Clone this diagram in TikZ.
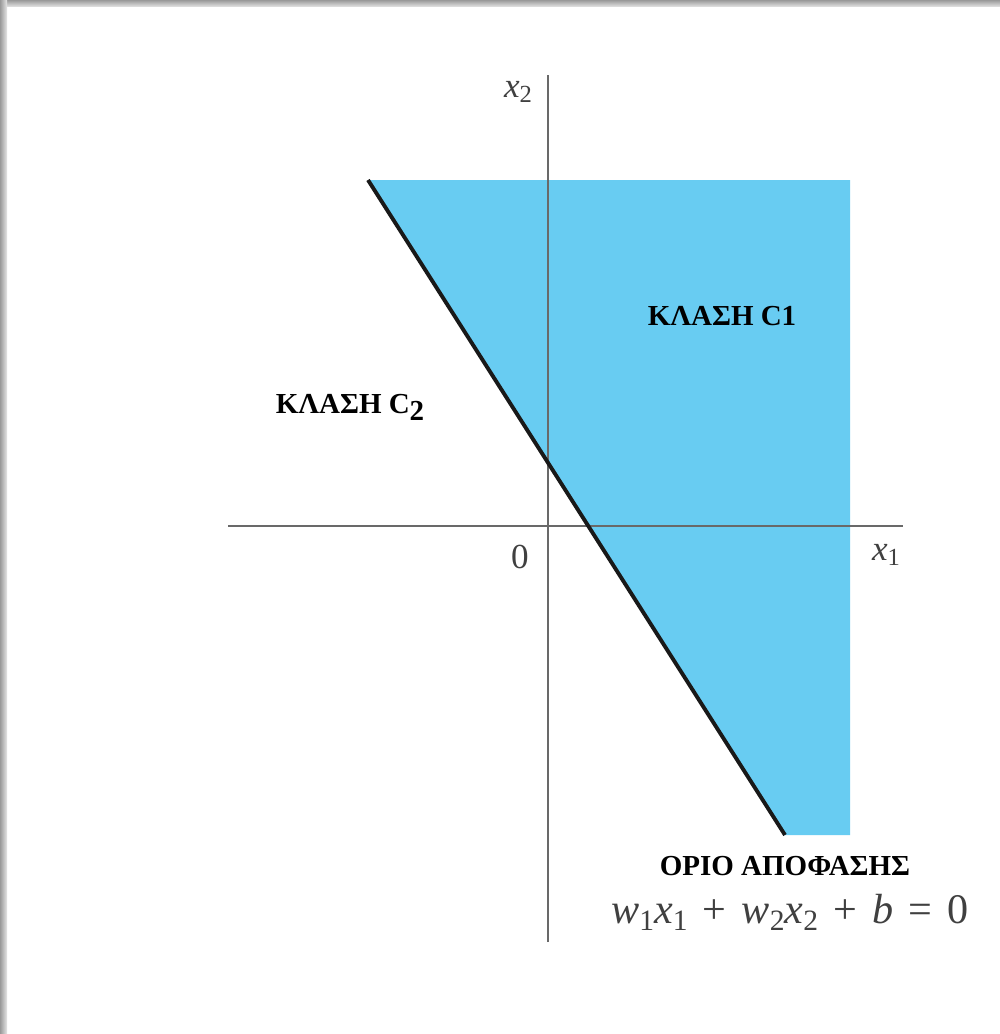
\documentclass[tikz,border=0pt]{standalone}
\usepackage{fontspec}
\setmainfont{Liberation Serif}
\usepackage{tikz}

\definecolor{regionblue}{RGB}{104,204,242}
\definecolor{axisgray}{RGB}{105,105,105}

\newcommand{\isub}[2]{\textit{#1}\raisebox{-0.35ex}{\fontsize{0.7em}{1em}\selectfont #2}}
\newcommand{\opgap}{\hspace{0.36em}}

\begin{document}
\begin{tikzpicture}[
    x=0.02cm, y=-0.02cm,
    axis/.style={draw=axisgray, line width=1.2pt},
    boundary/.style={draw=black!90, line width=2.2pt},
    classlbl/.style={font=\fontsize{16.5}{19}\selectfont\bfseries, inner sep=0pt},
    axislbl/.style={font=\fontsize{20}{22}\selectfont, text=black!75, inner sep=0pt}
]
    \useasboundingbox (0,0) rectangle (1000,1034);
    \fill[white] (0,0) rectangle (1000,1034);
    \shade[top color=gray!80, bottom color=gray!20] (0,0) rectangle (1000,7);
    \shade[left color=gray!80, right color=gray!20] (0,0) rectangle (7,1034);

    % decision region
    \coordinate (top) at (368,180);
    \coordinate (bottom) at (785,835);
    \fill[regionblue] (top) -- (850,180) -- (850,835) -- (bottom) -- cycle;

    % axes
    \coordinate (x1from) at (228,526);
    \coordinate (x1to) at (903,526);
    \coordinate (x2from) at (548,942);
    \coordinate (x2to) at (548,75);
    \draw[axis] (x1from) -- (x1to);
    \draw[axis] (x2from) -- (x2to);

    \draw[boundary] (top) -- (bottom);

    \node[axislbl] (x2lbl) at (518,92) {\isub{x}{2}};
    \node[axislbl] (x1lbl) at (886,555) {\isub{x}{1}};
    \node[axislbl] (origin) at (520,557) {0};

    \node[classlbl] (c1) at (722,316) {ΚΛΑΣΗ C1};
    \node[classlbl] (c2) at (350,407) {ΚΛΑΣΗ C\raisebox{-4pt}{2}};

    \node[classlbl] (border) at (785,866) {ΟΡΙΟ ΑΠΟΦΑΣΗΣ};
    \node[font=\fontsize{24}{26}\selectfont, text=black!75, inner sep=0pt] (eqn) at (790,912)
        {\isub{w}{1}\isub{x}{1}\opgap+\opgap\isub{w}{2}\isub{x}{2}\opgap+\opgap\textit{b}\opgap=\opgap0};
\end{tikzpicture}
\end{document}
